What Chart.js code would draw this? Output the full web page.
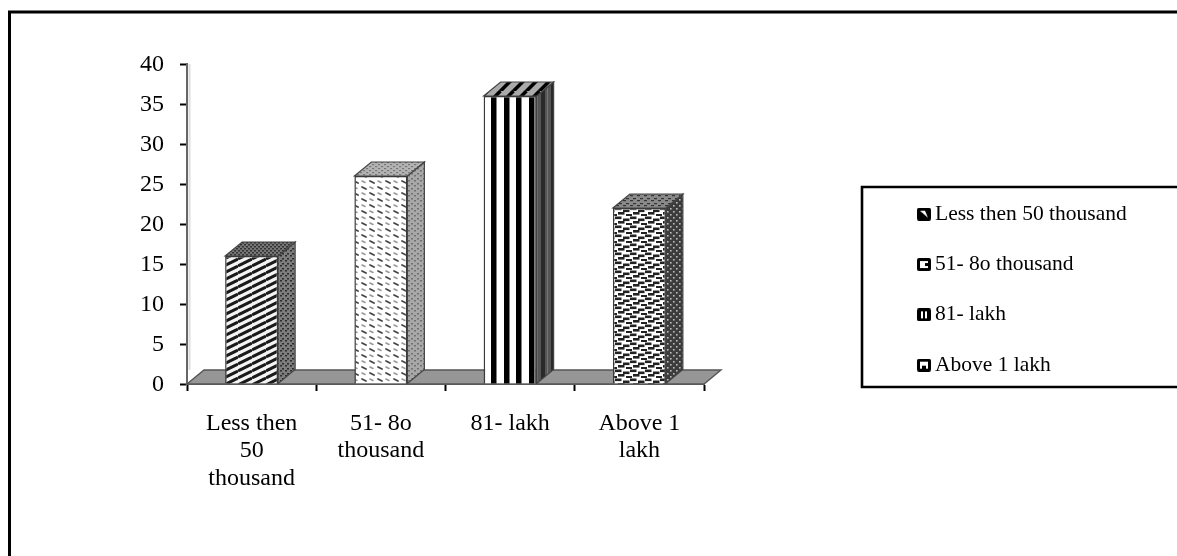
<!DOCTYPE html>
<html>
<head>
<meta charset="utf-8">
<style>
html,body{margin:0;padding:0;background:#fff;overflow:hidden}
canvas{display:block;filter:blur(0.6px)}
</style>
<script src="https://cdn.jsdelivr.net/npm/chart.js@4"></script>
</head>
<body>
<canvas id="c" width="1177" height="556"></canvas>
<script>
const legendNames = ['Less then 50 thousand', '51- 8o thousand', '81- lakh', 'Above 1 lakh'];
const axisLabels = [['Less then', '50', 'thousand'], ['51- 8o', 'thousand'], '81- lakh', ['Above 1', 'lakh']];
const values = [16, 26, 36, 22];

function tile(w, h, draw) {
  const c = document.createElement('canvas');
  c.width = w; c.height = h;
  const g = c.getContext('2d');
  draw(g, w, h);
  return document.createElement('canvas').getContext('2d').createPattern(c, 'repeat');
}
function dots(bg, fg, w, h, pts, s) {
  return tile(w, h, g => {
    g.fillStyle = bg; g.fillRect(0, 0, w, h);
    g.fillStyle = fg;
    pts.forEach(p => g.fillRect(p[0], p[1], s[0], s[1]));
  });
}
function dash(g, x, y, len, dy, col, lw) {
  g.strokeStyle = col; g.lineWidth = lw; g.lineCap = 'round';
  g.beginPath(); g.moveTo(x, y); g.lineTo(x + len, y + dy); g.stroke();
}
const frontDiag = tile(14, 7, g => {
  g.fillStyle = '#f4f4f4'; g.fillRect(0, 0, 14, 7);
  g.strokeStyle = '#1a1a1a'; g.lineWidth = 3;
  for (let k = -1; k < 3; k++) {
    g.beginPath(); g.moveTo(0, k * 7); g.lineTo(14, k * 7 - 7); g.stroke();
  }
});
const frontDash = tile(16, 12, g => {
  g.fillStyle = '#fff'; g.fillRect(0, 0, 16, 12);
  dash(g, 2, 1, 4, 2, '#444', 1.7);
  dash(g, 10, 7, 4, 2, '#444', 1.7);
  dash(g, 10, 1, 3, 1.5, '#999', 1.6);
  dash(g, 2, 7, 3, 1.5, '#999', 1.6);
});
const frontBars = tile(38, 4, g => {
  g.fillStyle = '#fff'; g.fillRect(0, 0, 38, 4);
  g.fillStyle = '#000';
  [35, 10, 22].forEach(x => { g.fillRect(x, 0, 5.5, 4); g.fillRect(x - 38, 0, 5.5, 4); });
});
const frontZig = tile(15, 9, g => {
  g.fillStyle = '#fff'; g.fillRect(0, 0, 15, 9);
  g.fillStyle = '#222';
  g.fillRect(0, 0.5, 6.5, 2.6); g.fillRect(8, 2.5, 6.5, 2.6);
  g.fillRect(3, 5, 6.5, 2.6); g.fillRect(11, 7, 4, 2); g.fillRect(0, 7, 2, 2);
});
const sideFaces = [
  dots('#7d7d7d', '#2c2c2c', 5, 5, [[0, 0], [2, 3]], [2, 1.5]),
  dots('#a8a8a8', '#707070', 6, 5, [[0, 0], [3, 3]], [2, 1.5]),
  tile(10, 4, g => { g.fillStyle = '#555'; g.fillRect(0, 0, 10, 4); g.fillStyle = '#2a2a2a'; g.fillRect(1, 0, 4, 4); g.fillStyle = '#777'; g.fillRect(7, 0, 1, 4); }),
  dots('#3c3c3c', '#bbb', 6, 6, [[1, 1], [4, 4]], [1.6, 1.6])
];
const topFaces = [
  dots('#777', '#333', 4, 4, [[0, 0], [2, 2]], [2, 1.5]),
  dots('#b4b4b4', '#777', 6, 4, [[0, 0], [3, 2]], [2.2, 1.2]),
  tile(13, 13, g => {
    g.fillStyle = '#aaa'; g.fillRect(0, 0, 13, 13);
    g.strokeStyle = '#000'; g.lineWidth = 3.6;
    [[-6.5, 13, 6.5, 0], [6.5, 13, 19.5, 0], [-6.5, 0, 6.5, -13], [6.5, 26, 19.5, 13], [-6.5, 26, 6.5, 13]].forEach(l => {
      g.beginPath(); g.moveTo(l[0], l[1]); g.lineTo(l[2], l[3]); g.stroke();
    });
  }),
  dots('#8a8a8a', '#333', 7, 5, [[0, 0], [3, 3]], [3, 1.2])
];
const fronts = [frontDiag, frontDash, frontBars, frontZig];

function swatch(i) {
  const c = document.createElement('canvas');
  c.width = 14; c.height = 13;
  const g = c.getContext('2d');
  g.fillStyle = '#000'; g.beginPath(); g.roundRect(0, 0, 14, 13, 2); g.fill();
  g.fillStyle = '#fff';
  const f = [
    () => { g.beginPath(); g.moveTo(3, 3); g.lineTo(8, 3); g.lineTo(11, 10); g.closePath(); g.fill(); },
    () => { g.fillRect(3, 3, 8, 7); g.fillStyle = '#000'; g.fillRect(8, 5, 3, 3); },
    () => { g.fillRect(4, 3, 2, 7); g.fillRect(8, 3, 2, 7); },
    () => { g.fillRect(3, 3, 8, 4); g.fillRect(3, 7, 2, 3); g.fillRect(9, 7, 2, 3); }
  ];
  f[i]();
  return c;
}

const DX = 17, DY = 14;
const decor = {
  id: 'decor',
  beforeDraw(chart) {
    const g = chart.ctx;
    g.save();
    g.fillStyle = '#fff'; g.fillRect(0, 0, chart.width, chart.height);
    g.strokeStyle = '#000'; g.lineWidth = 3;
    g.beginPath(); g.moveTo(9.5, chart.height + 4); g.lineTo(9.5, 12); g.lineTo(chart.width + 4, 12); g.stroke();
    g.lineWidth = 2.6;
    g.beginPath(); g.moveTo(chart.width + 4, 187); g.lineTo(862, 187); g.lineTo(862, 387); g.lineTo(chart.width + 4, 387); g.stroke();
    g.restore();
  },
  beforeDatasetsDraw(chart) {
    const g = chart.ctx, a = chart.chartArea, b = chart.scales.y.getPixelForValue(0);
    g.save();
    g.strokeStyle = '#ddd'; g.lineWidth = 2;
    g.beginPath(); g.moveTo(a.left + 2.5, a.top); g.lineTo(a.left + 2.5, b - DY); g.stroke();
    g.fillStyle = '#969696'; g.strokeStyle = '#555'; g.lineWidth = 1.4;
    g.beginPath();
    g.moveTo(a.left, b); g.lineTo(a.left + DX, b - DY); g.lineTo(a.right + DX, b - DY); g.lineTo(a.right, b);
    g.closePath(); g.fill(); g.stroke();
    chart.getDatasetMeta(0).data.forEach((el, i) => {
      const l = el.x - el.width / 2, r = el.x + el.width / 2, t = el.y, bs = el.base;
      g.lineWidth = 1.2; g.strokeStyle = '#444';
      g.fillStyle = sideFaces[i];
      g.beginPath();
      g.moveTo(r, t); g.lineTo(r + DX, t - DY); g.lineTo(r + DX, bs - DY); g.lineTo(r, bs);
      g.closePath(); g.fill(); g.stroke();
      g.fillStyle = topFaces[i];
      g.beginPath();
      g.moveTo(l, t); g.lineTo(l + DX, t - DY); g.lineTo(r + DX, t - DY); g.lineTo(r, t);
      g.closePath(); g.fill(); g.stroke();
    });
    g.restore();
  },
  afterLayout(chart) {
    const lg = chart.legend, pad = lg.options.labels.padding;
    lg.left = 923.75 - pad;
    lg.right = chart.width;
    lg.top = 203.5 - pad;
    lg.bottom = chart.height;
  }
};

new Chart(document.getElementById('c'), {
  type: 'bar',
  data: {
    labels: axisLabels,
    datasets: [{
      data: values,
      backgroundColor: fronts,
      borderColor: '#3a3a3a',
      borderWidth: 1.5,
      barPercentage: 0.41,
      categoryPercentage: 1
    }]
  },
  plugins: [decor],
  options: {
    responsive: false,
    animation: false,
    devicePixelRatio: 1,
    events: [],
    layout: { padding: { left: 0, top: 64, right: 473, bottom: 0 } },
    font: { family: 'Liberation Serif' },
    scales: {
      x: {
        afterFit(s) { s.height = 172; },
        grid: { drawOnChartArea: false, drawTicks: true, tickColor: '#000', tickLength: 7, tickWidth: 2 },
        border: { color: '#666', width: 2 },
        ticks: {
          autoSkip: false, maxRotation: 0, minRotation: 0, color: '#000', padding: 19,
          font: { family: 'Liberation Serif', size: 24, lineHeight: 1.14 }
        }
      },
      y: {
        min: 0, max: 40,
        afterFit(s) { s.width = 187; },
        grid: { drawOnChartArea: false, drawTicks: true, tickColor: '#000', tickLength: 7, tickWidth: 2 },
        border: { color: '#666', width: 2 },
        ticks: {
          stepSize: 5, color: '#000', padding: 16, labelOffset: 1,
          font: { family: 'Liberation Serif', size: 24 }
        }
      }
    },
    plugins: {
      title: { display: false },
      tooltip: { enabled: false },
      legend: {
        display: true,
        position: 'chartArea',
        align: 'start',
        labels: {
          usePointStyle: true,
          pointStyleWidth: 0.5,
          padding: 28.8,
          color: '#000',
          font: { family: 'Liberation Serif', size: 21.5 },
          generateLabels() {
            return legendNames.map((n, i) => ({
              text: n, pointStyle: swatch(i), fillStyle: '#000', strokeStyle: '#000',
              lineWidth: 0, hidden: false, index: i, datasetIndex: 0
            }));
          }
        }
      }
    }
  }
});
</script>
</body>
</html>
